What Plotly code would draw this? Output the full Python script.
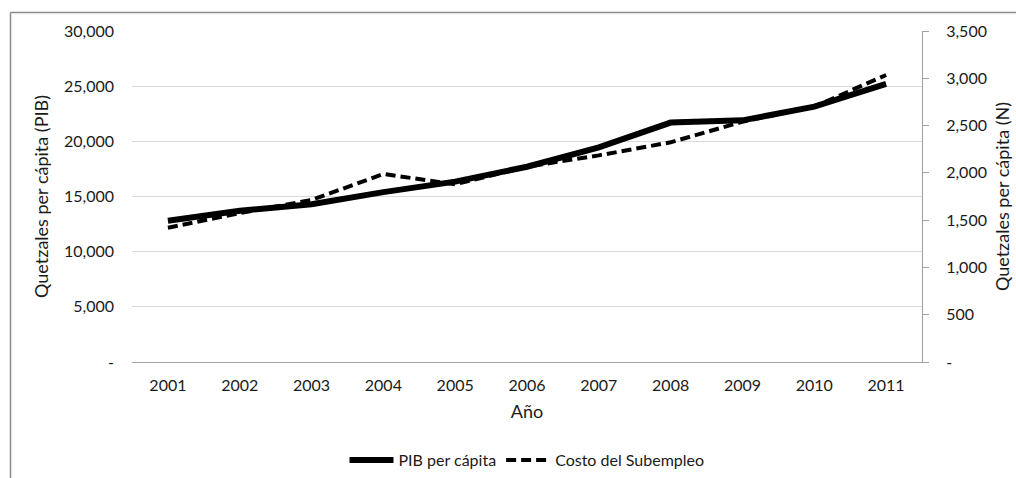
import plotly.graph_objects as go

years = ["2001", "2002", "2003", "2004", "2005", "2006", "2007", "2008", "2009", "2010", "2011"]
pib = [12800, 13700, 14300, 15400, 16350, 17700, 19450, 21700, 21900, 23150, 25200]
subempleo = [1420, 1575, 1713, 1988, 1879, 2065, 2185, 2323, 2541, 2700, 3035]

left_vals = [0, 5000, 10000, 15000, 20000, 25000, 30000]
left_text = ["-", "5,000", "10,000", "15,000", "20,000", "25,000", "30,000"]
right_vals = [0, 500, 1000, 1500, 2000, 2500, 3000, 3500]
right_text = ["-", "500", "1,000", "1,500", "2,000", "2,500", "3,000", "3,500"]

FONT = "Lato"
GREY = "#a0a0a0"

fig = go.Figure()
fig.add_trace(go.Scatter(x=years, y=pib, name="PIB per cápita", mode="lines",
                         line=dict(color="black", width=6), yaxis="y"))
fig.add_trace(go.Scatter(x=years, y=subempleo, name="Costo del Subempleo", mode="lines",
                         line=dict(color="black", width=4, dash="10px,5px"), yaxis="y2"))

fig.update_layout(
    width=1016, height=478,
    margin=dict(l=132, r=94, t=31, b=116, autoexpand=False),
    paper_bgcolor="white", plot_bgcolor="white",
    font=dict(family=FONT, size=16, color="#1a1a1a"),
    showlegend=True,
    legend=dict(orientation="h", x=0.5, xanchor="center", y=-0.296, yanchor="middle",
                font=dict(size=16), itemwidth=44, tracegroupgap=0),
    xaxis=dict(type="category", range=[-0.5, 10.5], showline=True, linecolor=GREY,
               linewidth=1, ticks="", showgrid=False, ticklabelstandoff=9, automargin=False,
               title=dict(text="Año", standoff=12, font=dict(size=18)), zeroline=False),
    yaxis=dict(range=[0, 30000], tickvals=left_vals, ticktext=left_text, automargin=False,
               showgrid=True, gridcolor="#d9d9d9", gridwidth=1, zeroline=False,
               showline=False, ticks="", ticklabelstandoff=17,
               title=dict(text="Quetzales per cápita (PIB)", standoff=10, font=dict(size=18))),
    yaxis2=dict(range=[0, 3500], tickvals=right_vals, ticktext=right_text, automargin=False,
                overlaying="y", side="right", showgrid=False, zeroline=False,
                showline=True, linecolor=GREY, linewidth=1,
                ticks="outside", ticklen=6, tickcolor=GREY, ticklabelstandoff=14,
                title=dict(text="Quetzales per cápita (N)", standoff=10, font=dict(size=18))),
)

# chart-area frame (left and top edges)
fx0 = (10.5 - 132) / 790
fy1 = (362 - 12.5) / 331
fig.add_shape(type="line", xref="paper", yref="paper", x0=fx0, x1=fx0, y0=-0.4, y1=fy1,
              line=dict(color="#8c8c8c", width=1.5))
fig.add_shape(type="line", xref="paper", yref="paper", x0=fx0, x1=1.2, y0=fy1, y1=fy1,
              line=dict(color="#8c8c8c", width=1.5))

fig.write_html("out.html", config={"displayModeBar": False},
               post_script="document.body.style.margin='0px';document.body.style.overflow='hidden';")
